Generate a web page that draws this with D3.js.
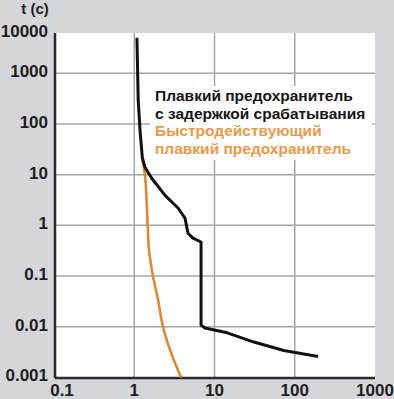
<!DOCTYPE html>
<html>
<head>
<meta charset="utf-8">
<script src="https://cdn.jsdelivr.net/npm/d3@7"></script>
<style>
  body { margin: 0; background: #d4d6d9; }
  svg { display: block; }
  text { font-family: "Liberation Sans", Arial, sans-serif; font-weight: bold; }
</style>
</head>
<body>
<script>
// Data.
const xTicks = [0.1, 1, 10, 100, 1000];
const xTickLabels = ['0.1', '1', '10', '100', '1000'];
const yTicks = [0.001, 0.01, 0.1, 1, 10, 100, 1000, 10000];
const yTickLabels = ['0.001', '0.01', '0.1', '1', '10', '100', '1000', '10000'];

// time-delay fuse (current multiple, seconds)
const slowI = [1.08, 1.12, 1.18, 1.26, 1.36, 1.65, 2.42, 3.51, 4.29, 4.67, 5.4, 6.8, 6.8, 7.6, 14.4, 31, 73, 195];
const slowT = [5000, 295, 75, 22, 14, 8.5, 3.9, 2.2, 1.39, 0.70, 0.56, 0.47, 0.0108, 0.0095, 0.0076, 0.005, 0.0034, 0.0026];

// fast-acting fuse
const fastI = [1.25, 1.36, 1.47, 1.53, 1.71, 1.98, 2.28, 2.79, 3.83];
const fastT = [21, 9.8, 0.97, 0.32, 0.1, 0.034, 0.01, 0.0035, 0.001];

const legendLines = [
    { text: 'Плавкий предохранитель', color: '#151515' },
    { text: 'с задержкой срабатывания', color: '#151515' },
    { text: 'Быстродействующий', color: '#ea9a47' },
    { text: 'плавкий предохранитель', color: '#ea9a47' }
];

const width = 394, height = 399;
const plotLeft = 55, plotRight = 375, plotTop = 33, plotBottom = 378;

const svg = d3.select('body')
    .append('svg')
    .attr('width', width)
    .attr('height', height);

const x = d3.scaleLog().domain([0.1, 1000]).range([54, 375]);
const y = d3.scaleLog().domain([0.001, 10000]).range([377.5, 22.5]);

// plot background
svg.append('rect')
    .attr('x', plotLeft).attr('y', plotTop)
    .attr('width', plotRight - plotLeft).attr('height', plotBottom - plotTop)
    .attr('fill', '#ffffff');

// grid
svg.append('g')
    .selectAll('line')
    .data(xTicks.slice(1, -1))
    .join('line')
        .attr('x1', d => x(d)).attr('x2', d => x(d))
        .attr('y1', plotTop).attr('y2', plotBottom)
        .attr('stroke', '#a4a6a8')
        .attr('stroke-width', 1.5);

svg.append('g')
    .selectAll('line')
    .data(yTicks.slice(1, -1))
    .join('line')
        .attr('x1', plotLeft).attr('x2', plotRight)
        .attr('y1', d => y(d)).attr('y2', d => y(d))
        .attr('stroke', '#a4a6a8')
        .attr('stroke-width', 1.5);

// legend box hides grid behind text
svg.append('rect')
    .attr('x', 150).attr('y', 86)
    .attr('width', 222).attr('height', 74)
    .attr('fill', '#ffffff');

// axes
svg.append('line')
    .attr('x1', plotLeft).attr('x2', plotLeft)
    .attr('y1', plotTop).attr('y2', plotBottom)
    .attr('stroke', '#2a2a2a').attr('stroke-width', 2.5);
svg.append('line')
    .attr('x1', plotLeft).attr('x2', plotRight)
    .attr('y1', plotBottom).attr('y2', plotBottom)
    .attr('stroke', '#2a2a2a').attr('stroke-width', 2.5);

// curves
const line = d3.line()
    .x(d => x(d[0]))
    .y(d => y(d[1]));

svg.append('path')
    .datum(d3.zip(fastI, fastT))
    .attr('d', line.curve(d3.curveMonotoneY))
    .attr('fill', 'none')
    .attr('stroke', '#dc8a30')
    .attr('stroke-width', 2.6);

svg.append('path')
    .datum(d3.zip(slowI, slowT))
    .attr('d', line.curve(d3.curveLinear))
    .attr('fill', 'none')
    .attr('stroke', '#111111')
    .attr('stroke-width', 3)
    .attr('stroke-linejoin', 'round');

// tick labels
svg.append('g')
    .selectAll('text')
    .data(yTicks)
    .join('text')
        .attr('x', 48)
        .attr('y', d => Math.max(y(d), plotTop) - 2)
        .attr('dy', '0.35em')
        .attr('text-anchor', 'end')
        .attr('font-size', 17)
        .attr('fill', '#1e1e1e')
        .text((_, i) => yTickLabels[i]);

svg.append('g')
    .selectAll('text')
    .data(xTicks)
    .join('text')
        .attr('x', d => Math.max(x(d), 62))
        .attr('y', 396)
        .attr('text-anchor', 'middle')
        .attr('font-size', 17)
        .attr('fill', '#1e1e1e')
        .text((_, i) => xTickLabels[i]);

svg.append('text')
    .attr('x', 35)
    .attr('y', 14)
    .attr('text-anchor', 'middle')
    .attr('font-size', 15)
    .attr('fill', '#1e1e1e')
    .text('t (c)');

// legend
svg.append('g')
    .selectAll('text')
    .data(legendLines)
    .join('text')
        .attr('x', 155)
        .attr('y', (_, i) => 101 + i * 17.5)
        .attr('font-size', 15.5)
        .attr('fill', d => d.color)
        .text(d => d.text);
</script>
</body>
</html>
